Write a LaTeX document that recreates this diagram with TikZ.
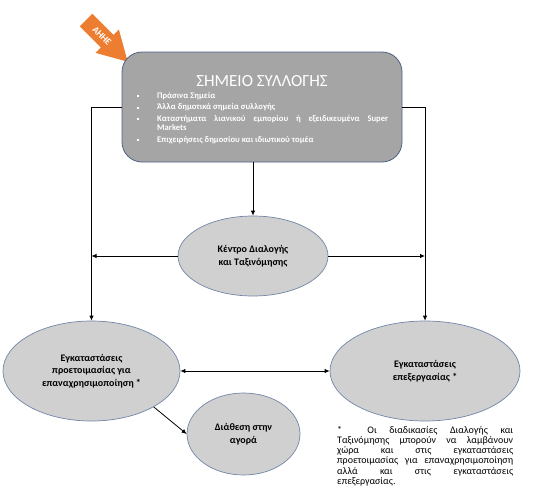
\documentclass[tikz,border=0pt]{standalone}
\usepackage{fontspec}
\setmainfont{Carlito}
\usetikzlibrary{arrows.meta,positioning,shapes.geometric}
\definecolor{szurke}{HTML}{A5A5A5}
\definecolor{vszurke}{HTML}{D0D0D0}
\definecolor{keret}{HTML}{4F6282}
\definecolor{okeret}{HTML}{7286A8}
\definecolor{narancs}{HTML}{ED7D31}
\newcommand{\jel}{\leavevmode\llap{\rule[0.3ex]{1.9pt}{1.9pt}\hspace{18.5pt}}}
\tikzset{
  doboz/.style={draw=keret,line width=0.8pt,rounded corners=20pt,fill=szurke,
                minimum width=280pt,minimum height=110pt},
  ovalis/.style={ellipse,draw=okeret,line width=0.7pt,fill=vszurke,align=center,inner sep=0pt,
                 font=\fontsize{10}{12.5}\selectfont\bfseries},
  lista/.style={text=white,align=justify,text width=231pt,inner sep=0pt,
                font=\fontsize{8.6}{9.3}\selectfont\bfseries},
  megj/.style={align=justify,text width=176pt,inner sep=0pt,font=\fontsize{10}{10.2}\selectfont},
  cimke/.style={text=white,inner sep=0pt,font=\fontsize{9.5}{10}\selectfont\bfseries},
  nyil/.style={-{Latex[length=5pt,width=4.5pt]},line width=0.8pt},
  ketnyil/.style={{Latex[length=5pt,width=4.5pt]}-{Latex[length=5pt,width=4.5pt]},line width=0.8pt},
}
\begin{document}
\begin{tikzpicture}[x=1pt,y=-1pt]
  \useasboundingbox (0,0) rectangle (553,503);
  % narancs nyil a doboz sarkanal
  \begin{scope}[shift={(86,20)},rotate=-45]
    \fill[narancs] (0,-9) -- (30,-9) -- (30,-16.5) -- (59,0) -- (30,16.5) -- (30,9) -- (0,9) -- cycle;
  \end{scope}
  \node[cimke,rotate=-45] (g) at (102,36) {ΑΗΗΕ};
  \node[doboz] (a) at (262,107) {};
  \node[text=white,font=\fontsize{17}{20}\selectfont] (t) at (262,81) {ΣΗΜΕΙΟ ΣΥΛΛΟΓΗΣ};
  \node[lista,anchor=north west] (l) at (157,92) {\setlength{\parskip}{2.2pt}%
    \jel Πράσινα Σημεία\par
    \jel Άλλα δημοτικά σημεία συλλογής\par
    \jel Καταστήματα λιανικού εμπορίου ή εξειδικευμένα Super\linebreak Markets\par
    \jel Επιχειρήσεις δημοσίου και ιδιωτικού τομέα};
  \node[ovalis,minimum width=150pt,minimum height=80pt] (b) at (253,256) {Κέντρο Διαλογής\\και Ταξινόμησης};
  \node[ovalis,minimum width=177pt,minimum height=100pt] (c) at (91.5,371)
    {Εγκαταστάσεις\\προετοιμασίας για\\επαναχρησιμοποίηση *};
  \node[ovalis,minimum width=190pt,minimum height=100pt] (d) at (425,371) {Εγκαταστάσεις\\επεξεργασίας *};
  \node[ovalis,minimum width=113pt,minimum height=82pt] (e) at (243.5,434) {Διάθεση στην\\αγορά};
  \node[megj,anchor=north west] (f) at (337,426) {*\ \ Οι διαδικασίες Διαλογής και\linebreak
    Ταξινόμησης μπορούν να λαμβάνουν\linebreak χώρα και στις εγκαταστάσεις\linebreak
    προετοιμασίας για επαναχρησιμοποίηση\linebreak αλλά και στις εγκαταστάσεις\linebreak
    επεξεργασίας.};
  \draw[nyil] (b.north |- a.south) -- (b.north);
  \draw[nyil] (a.west) -| (c.north); \draw[nyil] (a.east) -| (d.north);
  \draw[nyil] (b.west) -- (b.west -| c.north); \draw[nyil] (b.east) -- (b.east -| d.north);
  \draw[ketnyil] (c.east) -- (d.west);
  \draw[nyil] (c.-30) -- (e.west);
\end{tikzpicture}
\end{document}
